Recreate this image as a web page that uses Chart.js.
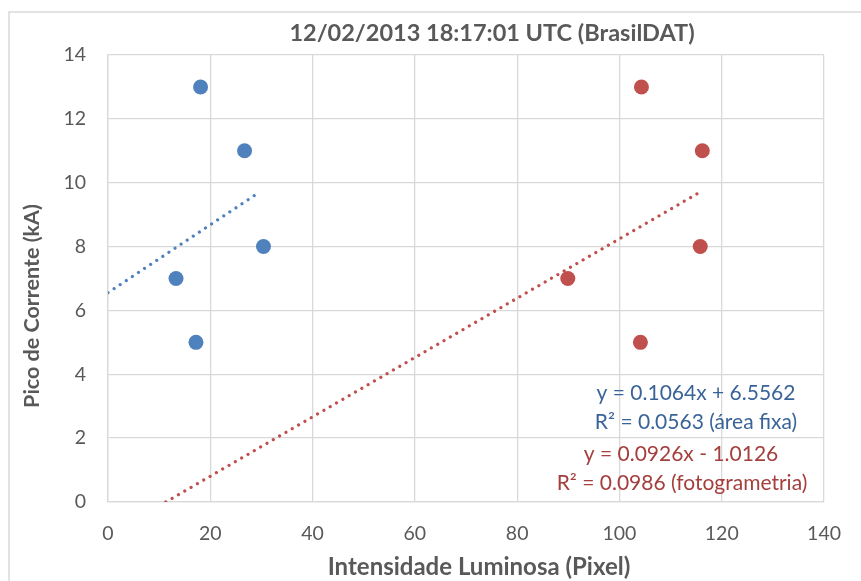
<!DOCTYPE html>
<html>
<head>
<meta charset="utf-8">
<script src="https://cdn.jsdelivr.net/npm/chart.js@4"></script>
<style>
  html, body { margin: 0; padding: 0; background: #fff; }
  #wrap { width: 861px; height: 581px; }
</style>
</head>
<body>
<div id="wrap"><canvas id="chart" width="861" height="581"></canvas></div>
<script>
// Values
const chartTitle = '12/02/2013 18:17:01 UTC (BrasilDAT)';
const xTitle = 'Intensidade Luminosa (Pixel)';
const yTitle = 'Pico de Corrente (kA)';

// área fixa (blue)
const fixaX = [18.1, 26.7, 30.4, 13.3, 17.2];
const fixaY = [13, 11, 8, 7, 5];
// fotogrametria (red)
const fotoX = [104.3, 116.2, 115.8, 89.9, 104.1];
const fotoY = [13, 11, 8, 7, 5];

// trendline end points as drawn
const fixaTrendX = [0, 29.3];
const fixaTrendY = [6.556, 9.67];
const fotoTrendX = [11.3, 116.0];
const fotoTrendY = [0, 9.73];

const fixaLabels = ['y = 0.1064x + 6.5562', 'R² = 0.0563 (área fixa)'];
const fotoLabels = ['y = 0.0926x - 1.0126', 'R² = 0.0986 (fotogrametria)'];

const xTicks = [0, 20, 40, 60, 80, 100, 120, 140];
const yTicks = [0, 2, 4, 6, 8, 10, 12, 14];

const FONT = 'Lato, "Liberation Sans", sans-serif';
const GRAY = '#595959';
const GRID = '#d9d9d9';
const BLUE = '#4f81bd';
const RED = '#c0504d';

function toPoints(xs, ys) {
    return xs.map((x, i) => ({ x: x, y: ys[i] }));
}

// Titles, regression text and the outer frame
const decorations = {
    id: 'decorations',
    beforeDraw(chart) {
        const c = chart.ctx;
        c.save();
        c.strokeStyle = GRID;
        c.lineWidth = 1.5;
        c.beginPath();
        c.moveTo(9, 581);
        c.lineTo(9, 12);
        c.lineTo(861, 12);
        c.stroke();
        c.restore();
    },
    afterDraw(chart) {
        const c = chart.ctx;
        c.save();
        c.fillStyle = GRAY;
        c.textAlign = 'center';
        c.textBaseline = 'middle';
        c.font = 'bold 23.5px ' + FONT;
        c.fillText(chartTitle, 492, 33);
        c.font = 'bold 24px ' + FONT;
        c.fillText(xTitle, 479, 567);
        c.save();
        c.translate(32, 306);
        c.rotate(-Math.PI / 2);
        c.font = 'bold 21.5px ' + FONT;
        c.fillText(yTitle, 0, 0);
        c.restore();

        c.font = '21px ' + FONT;
        c.fillStyle = '#3a6498';
        c.fillText(fixaLabels[0], 696, 393);
        c.fillText(fixaLabels[1], 696, 422);
        c.fillStyle = '#a43f3d';
        c.fillText(fotoLabels[0], 681, 454);
        c.fillText(fotoLabels[1], 682, 483);
        c.restore();
    }
};

function initChart() {
    const ctx = document.getElementById('chart');
    return new Chart(ctx.getContext('2d'), {
        type: 'scatter',
        data: {
            datasets: [
                {
                    label: 'Linear (área fixa)',
                    data: toPoints(fixaTrendX, fixaTrendY),
                    showLine: true,
                    borderColor: BLUE,
                    borderWidth: 3.2,
                    borderDash: [0.01, 7.3],
                    borderCapStyle: 'round',
                    pointRadius: 0
                },
                {
                    label: 'Linear (fotogrametria)',
                    data: toPoints(fotoTrendX, fotoTrendY),
                    showLine: true,
                    borderColor: RED,
                    borderWidth: 3.2,
                    borderDash: [0.01, 7.3],
                    borderCapStyle: 'round',
                    pointRadius: 0
                },
                {
                    label: 'área fixa',
                    data: toPoints(fixaX, fixaY),
                    backgroundColor: BLUE,
                    borderWidth: 0,
                    pointRadius: 7.5,
                    pointHoverRadius: 7.5
                },
                {
                    label: 'fotogrametria',
                    data: toPoints(fotoX, fotoY),
                    backgroundColor: RED,
                    borderWidth: 0,
                    pointRadius: 7.5,
                    pointHoverRadius: 7.5
                }
            ]
        },
        options: {
            responsive: false,
            animation: false,
            layout: { padding: { top: 55, right: 35, left: 0, bottom: 0 } },
            scales: {
                x: {
                    type: 'linear',
                    min: 0,
                    max: 140,
                    afterFit(scale) { scale.height = 79; },
                    afterBuildTicks(scale) { scale.ticks = xTicks.map(v => ({ value: v })); },
                    grid: { color: GRID, lineWidth: 1.3, drawTicks: false },
                    border: { color: GRID, width: 1.3 },
                    ticks: { color: GRAY, padding: 20, font: { family: FONT, size: 19.5 } }
                },
                y: {
                    type: 'linear',
                    min: 0,
                    max: 14,
                    afterFit(scale) { scale.width = 108; },
                    afterBuildTicks(scale) { scale.ticks = yTicks.map(v => ({ value: v })); },
                    grid: { color: GRID, lineWidth: 1.3, drawTicks: false },
                    border: { color: GRID, width: 1.3 },
                    ticks: { color: GRAY, padding: 22, font: { family: FONT, size: 19.5 } }
                }
            },
            plugins: {
                legend: { display: false },
                title: { display: false },
                tooltip: { enabled: false }
            }
        },
        plugins: [decorations]
    });
}

initChart();
</script>
</body>
</html>
